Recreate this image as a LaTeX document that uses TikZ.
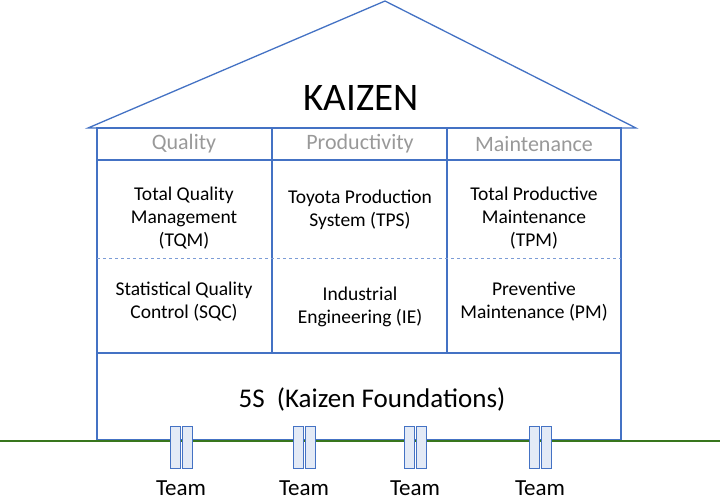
\documentclass[tikz,border=0pt]{standalone}
\usepackage{fontspec}
\setmainfont{Carlito}
\begin{document}
\begin{tikzpicture}[x=1pt,y=-1pt,
  ln/.style={draw=hb,line width=1.3pt},
  hd/.style={text=gray!80,font=\fontsize{22}{26}\selectfont},
  tx/.style={align=center,font=\fontsize{19.5}{23}\selectfont},
  pil/.style={draw=hb,fill=hb!15,line width=0.9pt},
  tm/.style={font=\fontsize{23}{26}\selectfont}]
\definecolor{hb}{RGB}{68,114,196}
\definecolor{gr}{RGB}{56,118,29}
\useasboundingbox (0,0) rectangle (720,501);
\coordinate (apex) at (385,1);
\coordinate (rl) at (88,128);
\coordinate (rr) at (636,128);
\draw[ln,fill=white] (rl) -- (apex) -- (rr) -- cycle;
\draw[ln] (97,128) rectangle (621,440);
\draw[ln] (97,160) -- (621,160);
\draw[ln] (97,353) -- (621,353);
\draw[ln] (272,128) -- (272,353);
\draw[ln] (447,128) -- (447,353);
\draw[draw=hb!70,dashed,line width=0.8pt] (97,258) -- (621,258);
\draw[gr,line width=2pt] (0,441) -- (720,441);
\node[font=\fontsize{39}{44}\selectfont] (k) at (361,98) {KAIZEN};
\node[hd] (q) at (184,144) {Quality};
\node[hd] (p) at (360,144) {Productivity};
\node[hd] (m) at (534,144) {Maintenance};
\node[tx] (a1) at (184,218) {Total Quality\\Management\\(TQM)};
\node[tx] (a2) at (360,210) {Toyota Production\\System (TPS)};
\node[tx] (a3) at (534,218) {Total Productive\\Maintenance\\(TPM)};
\node[tx] (b1) at (184,302) {Statistical Quality\\Control (SQC)};
\node[tx] (b2) at (360,307) {Industrial\\Engineering (IE)};
\node[tx] (b3) at (534,302) {Preventive\\Maintenance (PM)};
\node[font=\fontsize{27}{30}\selectfont] (f) at (372,399) {5S\ \ (Kaizen Foundations)};
\foreach \x/\n in {181/t1,304/t2,415/t3,540/t4}{
  \draw[pil] (\x-11,426) rectangle (\x-1,468);
  \draw[pil] (\x+1,426) rectangle (\x+11,468);
  \node[tm] (\n) at (\x,488) {Team};
}
\end{tikzpicture}
\end{document}
